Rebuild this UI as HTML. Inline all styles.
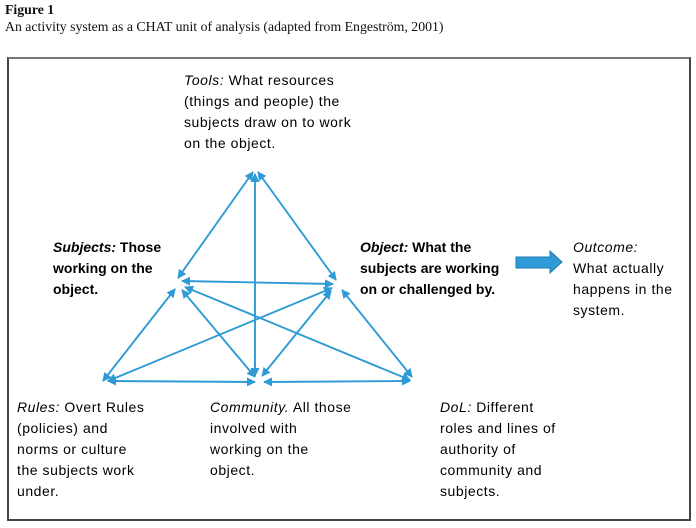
<!DOCTYPE html>
<html><head><meta charset="utf-8"><style>
body{margin:0;width:696px;height:528px;background:#fff;position:relative;overflow:hidden;font-family:"Liberation Sans",sans-serif;}
.t{position:absolute;font-size:14px;line-height:21px;color:#000;white-space:nowrap;letter-spacing:0.55px;}
.b{font-weight:bold;letter-spacing:0px;}
.cap{position:absolute;font-family:"Liberation Serif",serif;font-size:13.8px;color:#111;left:5px;}
#box{position:absolute;left:7px;top:57px;width:680px;height:460px;border:2px solid #444;border-top-color:#777;}
</style></head><body>
<div class="cap" style="top:2px;font-weight:bold">Figure 1</div>
<div class="cap" style="top:19px">An activity system as a CHAT unit of analysis (adapted from Engeström, 2001)</div>
<div id="box"></div>
<svg style="position:absolute;left:0;top:0" width="696" height="528">
<defs><marker id="a" markerWidth="9" markerHeight="9" refX="8" refY="4.5" orient="auto-start-reverse" markerUnits="userSpaceOnUse"><path d="M0,0 L9,4.5 L0,9 z" fill="#2e9bd6"/></marker></defs>
<g stroke="#2e9bd6" stroke-width="1.9" fill="none" marker-start="url(#a)" marker-end="url(#a)">
<line x1="253" y1="172" x2="178" y2="278"/>
<line x1="258" y1="172" x2="336" y2="280"/>
<line x1="255" y1="174" x2="255" y2="376"/>
<line x1="182" y1="281" x2="333" y2="284"/>
<line x1="175" y1="289" x2="103" y2="381"/>
<line x1="182" y1="290" x2="255" y2="377"/>
<line x1="185" y1="287" x2="410" y2="380"/>
<line x1="332" y1="288" x2="108" y2="381"/>
<line x1="331" y1="291" x2="262" y2="376"/>
<line x1="342" y1="290" x2="412" y2="377"/>
<line x1="108" y1="381" x2="255" y2="382"/>
<line x1="264" y1="382" x2="410" y2="381"/>
</g>
<path d="M516,257 L550,257 L550,251 L562,262 L550,273 L550,268 L516,268 z" fill="#2e9bd6" stroke="#1f78b0" stroke-width="1"/>
</svg>
<div class="t" style="left:184px;top:70px"><i>Tools:</i> What resources<br>(things and people) the<br>subjects draw on to work<br>on the object.</div>
<div class="t b" style="left:53px;top:237px"><i>Subjects:</i> Those<br>working on the<br>object.</div>
<div class="t b" style="left:360px;top:237px"><i>Object:</i> What the<br>subjects are working<br>on or challenged by.</div>
<div class="t" style="left:573px;top:237px"><i>Outcome:</i><br>What actually<br>happens in the<br>system.</div>
<div class="t" style="left:17px;top:397px"><i>Rules:</i> Overt Rules<br>(policies) and<br>norms or culture<br>the subjects work<br>under.</div>
<div class="t" style="left:210px;top:397px"><i>Community.</i> All those<br>involved with<br>working on the<br>object.</div>
<div class="t" style="left:440px;top:397px"><i>DoL:</i> Different<br>roles and lines of<br>authority of<br>community and<br>subjects.</div>
</body></html>
